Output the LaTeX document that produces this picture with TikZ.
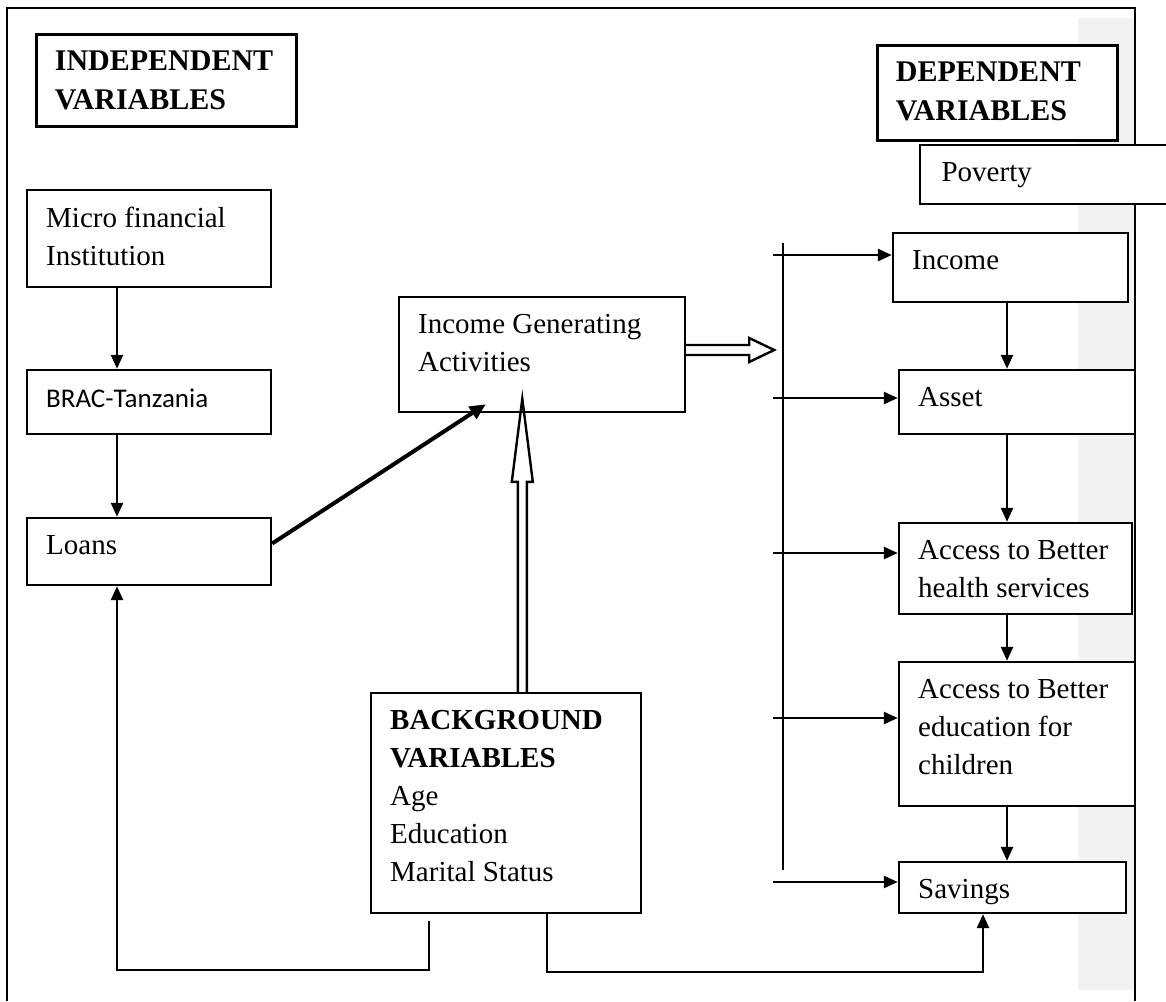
\documentclass[tikz,border=0pt]{standalone}
\usepackage{fontspec}
\setmainfont{Liberation Serif}
\newfontfamily\calibri{Carlito}
\usetikzlibrary{positioning,fit,calc,arrows.meta}

\tikzset{
  box/.style={draw, line width=1.2pt, fill=white, inner sep=0pt},
  headbox/.style={box, line width=1.5pt},
  thinbox/.style={box, line width=0.8pt},
  txt/.style={anchor=north west, align=left, inner sep=0pt, xshift=10pt, yshift=-9pt,
              font=\fontsize{14.5}{19}\selectfont},
  headtxt/.style={txt, font=\fontsize{15}{19.5}\selectfont\bfseries},
  link/.style={line width=1.25pt, -{Triangle[length=7pt,width=6pt]}},
  boldlink/.style={line width=2pt, -{Triangle[length=8pt,width=7pt]}},
  hollow/.style={line width=1.2pt, line join=miter}
}

\begin{document}
\begin{tikzpicture}[x=0.5pt,y=-0.5pt]
\useasboundingbox (0,0) rectangle (1166,1001);

% frame and grey margin
\fill[black!5] (1078,18) rectangle (1135,990);
\draw[line width=1pt] (7,1001) -- (7,8) -- (1135,8) -- (1135,1001);

% headings
\node[headbox, fit={(36,34) (296,126)},
      label={[headtxt]north west:INDEPENDENT\\VARIABLES}] (indep) {};
\node[headbox, fit={(877,45) (1117,140)},
      label={[headtxt]north west:DEPENDENT\\VARIABLES}] (dep) {};
\node[thinbox, fit={(920,145) (1180,204)},
      label={[txt, xshift=1pt]north west:Poverty}] (poverty) {};

% independent side
\node[box, fit={(27,190) (271,287)},
      label={[txt]north west:Micro financial\\Institution}] (micro) {};
\node[box, fit={(27,370) (271,434)},
      label={[txt, font=\calibri\fontsize{13.5}{17}\selectfont, yshift=-1pt]north west:BRAC-Tanzania}] (brac) {};
\node[box, fit={(27,518) (271,585)},
      label={[txt]north west:Loans}] (loans) {};
\node[box, fit={(399,297) (685,412)},
      label={[txt]north west:Income Generating\\Activities}] (iga) {};
\node[box, fit={(371,693) (641,913)},
      label={[txt]north west:\textbf{BACKGROUND}\\\textbf{VARIABLES}\\Age\\Education\\Marital Status}] (bg) {};

% dependent side
\node[box, fit={(893,233) (1128,302)},
      label={[txt]north west:Income}] (income) {};
\node[box, fit={(899,370) (1135,434)},
      label={[txt]north west:Asset}] (asset) {};
\node[box, fit={(899,523) (1132,614)},
      label={[txt]north west:Access to Better\\health services}] (health) {};
\node[box, fit={(899,662) (1135,806)},
      label={[txt]north west:Access to Better\\education for\\children}] (educ) {};
\node[box, fit={(899,862) (1126,913)},
      label={[txt]north west:Savings}] (savings) {};

% helper coordinates
\coordinate (xl) at (117,0);
\coordinate (xr) at (1007,0);
\coordinate (bartop) at (783,243);
\coordinate (barbot) at (783,870);
\coordinate (igatip) at ($(iga.south west)+(88,-9)$);
\coordinate (bgl) at ($(bg.south west)+(59,7)$);
\coordinate (bgr) at ($(bg.south west)+(177,0)$);
\coordinate (lowl) at (117,970);
\coordinate (lowr) at (983,972);

% chain on the left
\draw[link] (micro.south -| xl) -- (brac.north -| xl);
\draw[link] (brac.south -| xl) -- (loans.north -| xl);
\draw[boldlink] ($(loans.east)+(0,-8)$) -- (igatip);

% chain on the right
\draw[link] (income.south -| xr) -- (asset.north -| xr);
\draw[link] (asset.south -| xr) -- (health.north -| xr);
\draw[link] (health.south -| xr) -- (educ.north -| xr);
\draw[link] (educ.south -| xr) -- (savings.north -| xr);

% distribution bar
\draw[line width=1.25pt] (bartop) -- (barbot);
\foreach \n/\y in {income/255, asset/398, health/553, educ/718, savings/882}{
  \coordinate (s\n) at (773,\y);
  \draw[link] (s\n) -- (s\n -| \n.west);
}

% hollow arrows
\draw[hollow] ($(iga.east)+(0,-9.5)$) -- ++(63,0) -- ++(0,-7) -- ++(25,12)
  -- ++(-25,12) -- ++(0,-7) -- ++(-63,0);
\draw[hollow] ($(bg.north west)+(148,0)$) -- ++(0,-210) -- ++(-6,0) -- ++(10.5,-83)
  -- ++(10.5,83) -- ++(-6,0) -- ++(0,210);

% feedback from background variables
\draw[link] (bgl) |- (lowl) -- (loans.south -| lowl);
\draw[link] (bgr) |- (lowr) -- (savings.south -| lowr);
\end{tikzpicture}
\end{document}
